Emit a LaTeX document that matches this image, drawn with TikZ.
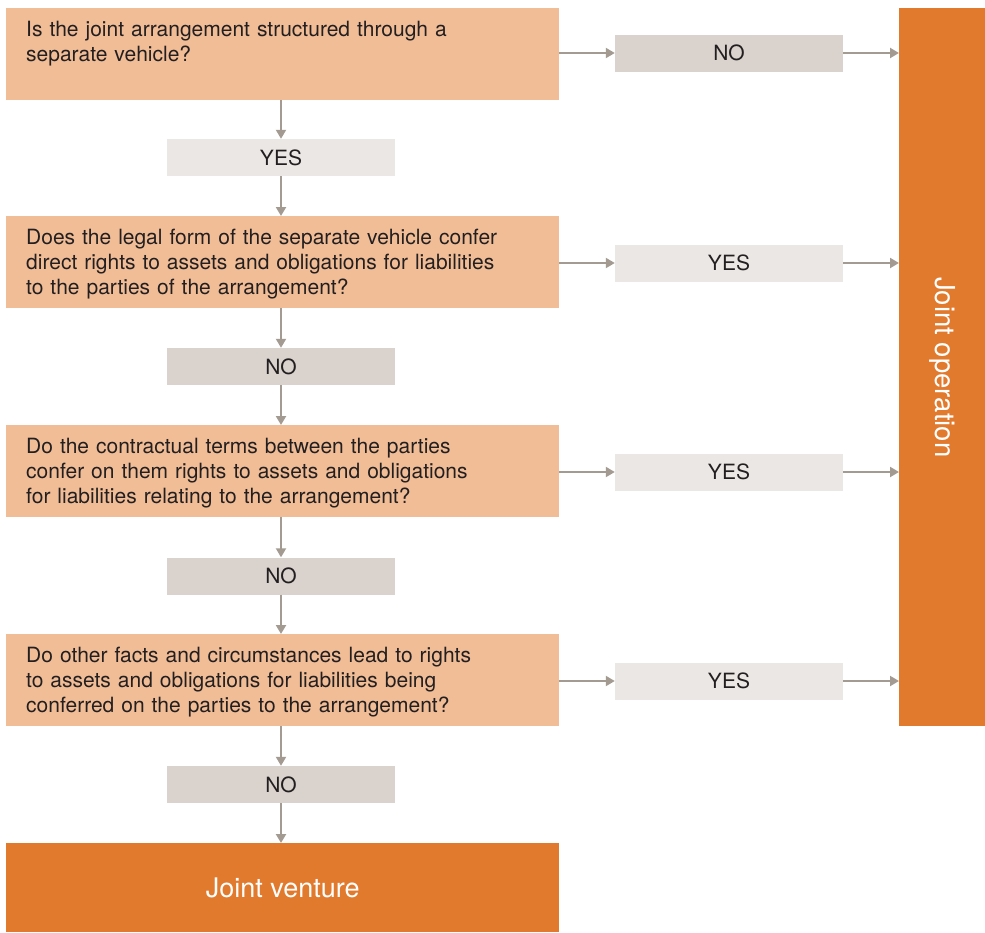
\documentclass[tikz,border=0pt]{standalone}
\usepackage{fontspec}
\setmainfont{TeX Gyre Heros}
\usetikzlibrary{arrows.meta}
\definecolor{qfill}{HTML}{F1BD96}
\definecolor{dark}{HTML}{E27A2E}
\definecolor{nofill}{HTML}{D9D2CD}
\definecolor{yesfill}{HTML}{EBE7E4}
\definecolor{arr}{HTML}{A39A92}
\definecolor{txt}{HTML}{231F20}
\begin{document}
\begin{tikzpicture}[x=1pt,y=-1pt,
  qbox/.style={fill=qfill,draw=none,minimum width=553pt,minimum height=92pt,anchor=north west,inner sep=0pt},
  qtext/.style={anchor=north west,text width=530pt,align=left,font=\fontsize{21}{25.2}\selectfont,text=txt,inner sep=0pt},
  nobox/.style={fill=nofill,minimum width=228pt,minimum height=37pt,inner sep=0pt,font=\fontsize{21}{24}\selectfont,text=txt},
  yesbox/.style={fill=yesfill,minimum width=228pt,minimum height=37pt,inner sep=0pt,font=\fontsize{21}{24}\selectfont,text=txt},
  conn/.style={draw=arr,line width=2pt,-{Triangle[length=9pt,width=10pt]}}]
\useasboundingbox (0,0) rectangle (985,932);
% question boxes
\node[qbox] (q1) at (6,8) {};
\node[qbox] (q2) at (6,216) {};
\node[qbox] (q3) at (6,425) {};
\node[qbox] (q4) at (6,634) {};
\node[qtext] (t1) at (26,21) {Is the joint arrangement structured through a\\separate vehicle?};
\node[qtext] (t2) at (26,229) {Does the legal form of the separate vehicle confer\\direct rights to assets and obligations for liabilities\\to the parties of the arrangement?};
\node[qtext] (t3) at (26,438) {Do the contractual terms between the parties\\confer on them rights to assets and obligations\\for liabilities relating to the arrangement?};
\node[qtext] (t4) at (26,647) {Do other facts and circumstances lead to rights\\to assets and obligations for liabilities being\\conferred on the parties to the arrangement?};
% outcome boxes
\node[fill=dark,minimum width=553pt,minimum height=89pt,anchor=north west,inner sep=0pt] (jv) at (6,843) {};
\node[text=white,font=\fontsize{27}{30}\selectfont] (jvt) at (jv.center) {Joint venture};
\node[fill=dark,minimum width=86pt,minimum height=718pt,anchor=north west,inner sep=0pt] (jo) at (899,8) {};
\node[text=white,rotate=-90,font=\fontsize{27.5}{30}\selectfont] (jot) at (jo.center) {Joint operation};
% decision labels
\node[nobox] (n1) at (729,53) {NO};
\node[yesbox] (y1) at (281,157.5) {YES};
\node[yesbox] (y2) at (729,263) {YES};
\node[nobox] (n2) at (281,366.5) {NO};
\node[yesbox] (y3) at (729,472) {YES};
\node[nobox] (n3) at (281,576) {NO};
\node[yesbox] (y4) at (729,681) {YES};
\node[nobox] (n4) at (281,784.5) {NO};
% connectors right
\draw[conn] (q1.east |- n1.west) -- (n1.west);
\draw[conn] (n1.east) -- (n1.east -| jo.west);
\draw[conn] (q2.east |- y2.west) -- (y2.west);
\draw[conn] (y2.east) -- (y2.east -| jo.west);
\draw[conn] (q3.east |- y3.west) -- (y3.west);
\draw[conn] (y3.east) -- (y3.east -| jo.west);
\draw[conn] (q4.east |- y4.west) -- (y4.west);
\draw[conn] (y4.east) -- (y4.east -| jo.west);
% connectors down
\draw[conn] (y1.north |- q1.south) -- (y1.north);
\draw[conn] (y1.south) -- (y1.south |- q2.north);
\draw[conn] (n2.north |- q2.south) -- (n2.north);
\draw[conn] (n2.south) -- (n2.south |- q3.north);
\draw[conn] (n3.north |- q3.south) -- (n3.north);
\draw[conn] (n3.south) -- (n3.south |- q4.north);
\draw[conn] (n4.north |- q4.south) -- (n4.north);
\draw[conn] (n4.south) -- (n4.south |- jv.north);
\end{tikzpicture}
\end{document}
